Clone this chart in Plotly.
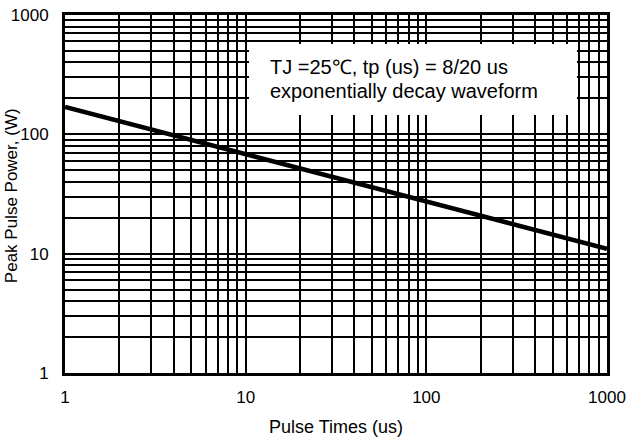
import plotly.graph_objects as go

# Peak pulse power vs pulse duration (log-log)
pulse_time_us = [1, 10, 100, 1000]
peak_power_w = [170, 68, 27, 11]

x_major = [1, 10, 100, 1000]
x_major_text = ["1", "10", "100", "1000"]
y_major = [1, 10, 100, 1000]
y_major_text = ["1", "10", "100", "1000"]

minor_vals = [m * 10 ** d for d in range(3) for m in range(2, 10)]

note_lines = ["TJ =25\u2103, tp (us) = 8/20 us", "exponentially decay waveform"]

FONT = "Liberation Sans, Arial, sans-serif"

fig = go.Figure()
fig.add_trace(go.Scatter(
    x=pulse_time_us, y=peak_power_w, mode="lines",
    line=dict(color="black", width=4.5), showlegend=False,
))

axis_common = dict(
    type="log", automargin=False,
    showgrid=True, gridcolor="black", gridwidth=2,
    showline=True, linecolor="black", linewidth=3, mirror=True,
    ticks="", zeroline=False,
    tickfont=dict(family=FONT, size=17, color="black"),
    minor=dict(tickvals=minor_vals, showgrid=True, gridcolor="black", gridwidth=2, ticks=""),
)

fig.update_xaxes(
    **axis_common, range=[0, 3],
    tickvals=x_major, ticktext=x_major_text, ticklabelstandoff=7,
    title=dict(text="Pulse Times (us)", font=dict(family=FONT, size=18, color="black"), standoff=14),
)
fig.update_yaxes(
    **axis_common, range=[0, 3],
    tickvals=y_major, ticktext=y_major_text, ticklabelstandoff=10,
)

# rotated y-axis title
fig.add_annotation(xref="paper", yref="paper", x=-0.0996, y=0.494,
                   xanchor="center", yanchor="middle", showarrow=False,
                   textangle=-90, text="Peak Pulse Power, (W)",
                   font=dict(family=FONT, size=17, color="black"))

# white panel behind the condition note
fig.add_shape(type="rect", xref="paper", yref="paper",
              x0=0.3395, x1=0.9446, y0=0.7207, y1=0.919,
              fillcolor="white", line=dict(width=0), layer="above")

for txt, yy in zip(note_lines, [0.8547, 0.7877]):
    fig.add_annotation(xref="paper", yref="paper", x=0.375, y=yy,
                       xanchor="left", yanchor="middle", showarrow=False,
                       text=txt, font=dict(family=FONT, size=20, color="black"))

fig.update_layout(
    width=628, height=443,
    margin=dict(l=65, r=21, t=15, b=70),
    paper_bgcolor="white", plot_bgcolor="white",
    font=dict(family=FONT, color="black"),
)

fig.write_html("out.html")
